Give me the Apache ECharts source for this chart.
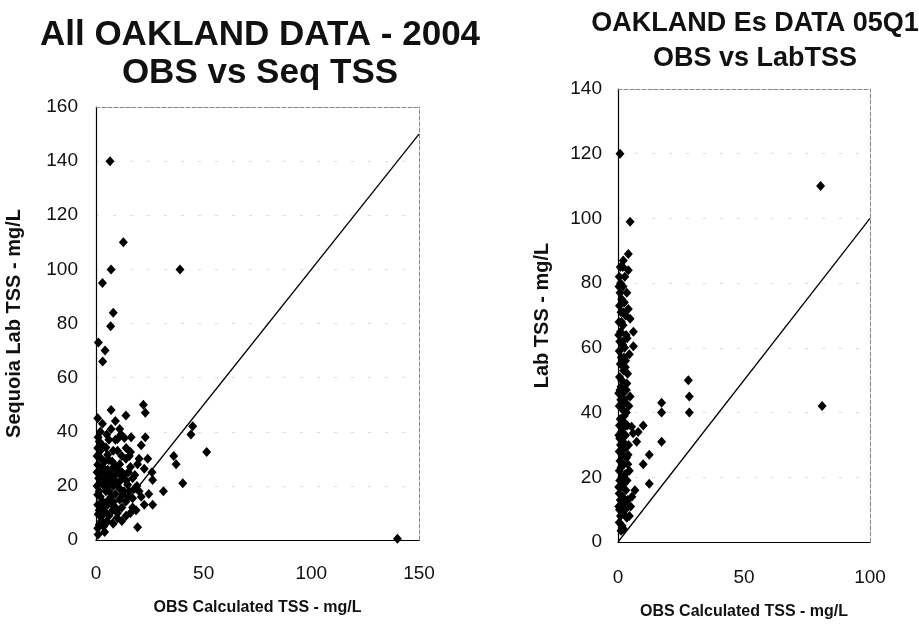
<!DOCTYPE html>
<html>
<head>
<meta charset="utf-8">
<script src="https://cdn.jsdelivr.net/npm/echarts@6/dist/echarts.min.js"></script>
<style>
  html, body { margin: 0; padding: 0; background: #fff; }
  #main { width: 919px; height: 626px; }
</style>
</head>
<body>
<div id="main"></div>
<script>
// left chart - all Oakland data 2004 (OBS calc TSS, Sequoia lab TSS)
var leftPoints = [
  [6.5,140],[12.7,110],[7,100],[39,100],[3,95],[8,84],[6.8,79],[1.1,73],[4.2,70],[3.1,66],
  [22,50],[22.9,47],[7,48],[13.9,46],[0.8,45],[7,41],[11.6,39],[13.2,37.7],[10,37.3],[16.3,38],[22.9,38],
  [44.9,42],[44.1,39],[51.4,32.5],[36.1,31],[37.2,28],[40.3,21],[31.3,18],[26.3,13],[22.4,13],[24.5,17],
  [26.3,22.2],[22.4,26.3],[19.3,28],[18.6,11],[19.3,4.7],[140,0.5],
  [15.5,31],[16,32.5],[13.9,30],[9,27.4],[4.6,34.2],[1.5,36.4],[0.8,34],[5.4,31.5],[2.3,30.2],[7,26],
  [6.5,24.5],[13.2,24],[17,22.8],[1.2,22.8],[3.1,21],[10,21],[15.5,18],[4.6,18],[12.4,16.7],[17,15.4],
  [13.9,14.2],[7.7,13],[3.1,14.2],[0.8,13],[10,8],[7.7,11],[2.3,8.6],[1.5,5.6],[0.8,4.3],[1.5,18],[9,17],
  [11,19],[6,21.5],[8,22.5],[5.4,26],[3.9,19.8],[7,16],[11.6,22.2],[14.7,20.4],[6,29.5],[7.5,29],[0.8,27.8],
  [3.9,24],[10.8,24.7],[5.4,13],[0.8,16.7],[1,9.5],[4,10.5],
  [2,25],[3,27],[4,22],[5,20],[6,18],[2,16],[3,12],[8,20],[9,24],[10,26],[11,28],[12,25],[2,33],[3,35],
  [1,38],[4,29],[5,23],[6,15],[8,14],[9,12],[10,10],[12,12],[11,15],[13,18],[14,22],[15,25],[16,27],[18,24],
  [19,20],[20,18],[21,16],[17,12],[14,9],[12,7],[0.5,20],[0.5,25],[0.5,31],[1.5,11],[2.5,7],[3.5,5],[5,7],
  [6,9],[8,6],[4,3],[1,2],[2,40],[6,37],[8,33],[10,33],[12,31],[14,34],[3,43],[9,44],[11,41],[5,39],[9,37],
  [20,30],[21,35],[24,30],[26,25],[18,19],[16,10],[15,16]
];
var leftOneToOne = [[0,0],[150,150]];
var leftXTicks = [0, 50, 100, 150];
var leftYTicks = [0, 20, 40, 60, 80, 100, 120, 140, 160];

// right chart - Oakland Es data 05Q1 (OBS calc TSS, lab TSS)
var rightPoints = [
  [0.8,120],[80.4,110],[4.8,99],[4.1,89],[2.1,87],[4.1,84],[4.8,69],[6.1,65],[6.1,60.5],[27.9,50],[28.3,45],
  [28.3,40],[17.3,43],[17.3,40],[81,42],[10,36],[7.4,31],[17.3,31],[12.4,27],[10,24],[12.4,18],[6.7,16],
  [5.4,35.6],[6,33.6],[4.8,45],[8,34],[4,27],[4.5,22],
  [0.5,82],[1,80],[2,79],[0.8,77],[1.5,75],[2.5,74],[0.6,73],[1.2,71],[3,70],[0.4,68],[2,67],[1,65],[3.2,64],
  [0.7,62],[1.8,61],[2.6,60],[0.5,59],[1.3,57],[3,56],[0.9,55],[2.2,53],[0.6,51],[1.5,50],[3.5,49],[0.8,47],
  [2,46],[1.1,44],[2.8,43],[0.5,42],[1.7,41],[3.3,40],[0.9,38],[2.4,37],[0.6,36],[1.4,34],[3,33],[0.7,32],
  [2,31],[1,30],[2.8,29],[0.5,28],[1.6,27],[3.4,26],[0.8,25],[2.2,24],[1.2,23],[0.5,22],[2.9,21],[1.5,20],
  [0.7,19],[2.4,18],[1,17],[3.1,16],[0.5,15],[1.8,14],[0.9,13],[2.6,12],[1.3,11],[0.6,10],[2,9],[1,8],
  [3.5,7.5],[0.5,6],[1.6,5],[2.8,10],[3.8,13],[3.6,19],[3.9,24],[4.2,30],[3.7,36],[4.3,42],[3.8,52],[4.5,58],
  [3.6,63],[4.1,72],[3.5,77],[2.7,82],[1.9,85],[0.4,79],[0.3,64],[0.3,46],[0.3,33],[0.3,17],[0.3,11],
  [1.2,3.5],[2.2,4],[5,11],[5.5,14],[4.5,8],[1.7,62],[2.3,57],[1.2,48],[2.5,39],[1.9,35],[2.6,44],[2.1,71],
  [1.4,68],[2.9,54],[3.3,47],[0.9,85]
];
var rightOneToOne = [[0,0],[100,100]];
var rightXTicks = [0, 50, 100];
var rightYTicks = [0, 20, 40, 60, 80, 100, 120, 140];

var myChart = echarts.init(document.getElementById('main'));

var fontName = 'Liberation Sans, Arial, sans-serif';

function valueAxis(ticks, grid, pos, opts) {
  var a = {
    type: 'value',
    gridIndex: grid,
    position: pos,
    min: ticks[0],
    max: ticks[ticks.length - 1],
    interval: ticks[1] - ticks[0],
    axisLine: { show: true, onZero: false, lineStyle: { color: '#000', width: 1.2 } },
    axisTick: { show: false },
    axisLabel: { color: '#111', fontSize: 19, fontFamily: fontName },
    splitLine: { show: false },
    nameTextStyle: { color: '#111', fontSize: 16, fontWeight: 'bold', fontFamily: fontName }
  };
  for (var k in opts) a[k] = opts[k];
  return a;
}

// dashed frame on top and right side
function frameAxis(ticks, grid, pos) {
  return {
    type: 'value',
    gridIndex: grid,
    position: pos,
    min: ticks[0],
    max: ticks[ticks.length - 1],
    interval: ticks[1] - ticks[0],
    axisLine: { show: true, onZero: false, lineStyle: { color: '#888', width: 1, type: 'dashed' } },
    axisTick: { show: false },
    axisLabel: { show: false },
    splitLine: { show: false }
  };
}

var yNameStyle = { color: '#111', fontSize: 20, fontWeight: 'bold', fontFamily: fontName };

var option = {
  backgroundColor: '#fff',
  animation: false,
  title: [
    {
      text: 'All OAKLAND DATA - 2004\nOBS vs Seq TSS',
      left: 255, top: 11, textAlign: 'center',
      textStyle: { fontSize: 35, fontWeight: 'bold', color: '#111', fontFamily: fontName, lineHeight: 38 }
    },
    {
      text: 'OAKLAND Es DATA 05Q1\nOBS vs LabTSS',
      left: 750, top: 1, textAlign: 'center',
      textStyle: { fontSize: 27, fontWeight: 'bold', color: '#111', fontFamily: fontName, lineHeight: 35 }
    }
  ],
  grid: [
    { left: 96, top: 107, width: 323, height: 433 },
    { left: 618, top: 89, width: 252, height: 453 }
  ],
  xAxis: [
    valueAxis(leftXTicks, 0, 'bottom', {
      name: 'OBS Calculated TSS - mg/L', nameLocation: 'middle', nameGap: 60,
      axisLabel: { color: '#111', fontSize: 19, fontFamily: fontName, margin: 24 }
    }),
    valueAxis(rightXTicks, 1, 'bottom', {
      name: 'OBS Calculated TSS - mg/L', nameLocation: 'middle', nameGap: 62,
      axisLabel: { color: '#111', fontSize: 19, fontFamily: fontName, margin: 26 }
    }),
    frameAxis(leftXTicks, 0, 'top'),
    frameAxis(rightXTicks, 1, 'top')
  ],
  yAxis: [
    valueAxis(leftYTicks, 0, 'left', {
      name: 'Sequoia Lab TSS - mg/L', nameLocation: 'middle', nameGap: 72,
      nameTextStyle: yNameStyle,
      axisLabel: { color: '#111', fontSize: 19, fontFamily: fontName, margin: 18 },
      splitLine: { show: true, lineStyle: { color: '#ddd', width: 1, type: [3, 14] } }
    }),
    valueAxis(rightYTicks, 1, 'left', {
      name: 'Lab TSS - mg/L', nameLocation: 'middle', nameGap: 66,
      nameTextStyle: yNameStyle,
      axisLabel: { color: '#111', fontSize: 19, fontFamily: fontName, margin: 16 },
      splitLine: { show: true, lineStyle: { color: '#ddd', width: 1, type: [3, 14] } }
    }),
    frameAxis(leftYTicks, 0, 'right'),
    frameAxis(rightYTicks, 1, 'right')
  ],
  series: [
    {
      type: 'scatter', xAxisIndex: 0, yAxisIndex: 0,
      symbol: 'diamond', symbolSize: [9, 10],
      itemStyle: { color: '#000', opacity: 1 },
      data: leftPoints
    },
    {
      type: 'line', xAxisIndex: 0, yAxisIndex: 0,
      showSymbol: false, symbol: 'none',
      lineStyle: { color: '#000', width: 1.3 },
      data: leftOneToOne
    },
    {
      type: 'scatter', xAxisIndex: 1, yAxisIndex: 1,
      symbol: 'diamond', symbolSize: [9, 10],
      itemStyle: { color: '#000', opacity: 1 },
      data: rightPoints
    },
    {
      type: 'line', xAxisIndex: 1, yAxisIndex: 1,
      showSymbol: false, symbol: 'none',
      lineStyle: { color: '#000', width: 1.3 },
      data: rightOneToOne
    }
  ]
};

myChart.setOption(option);
</script>
</body>
</html>
